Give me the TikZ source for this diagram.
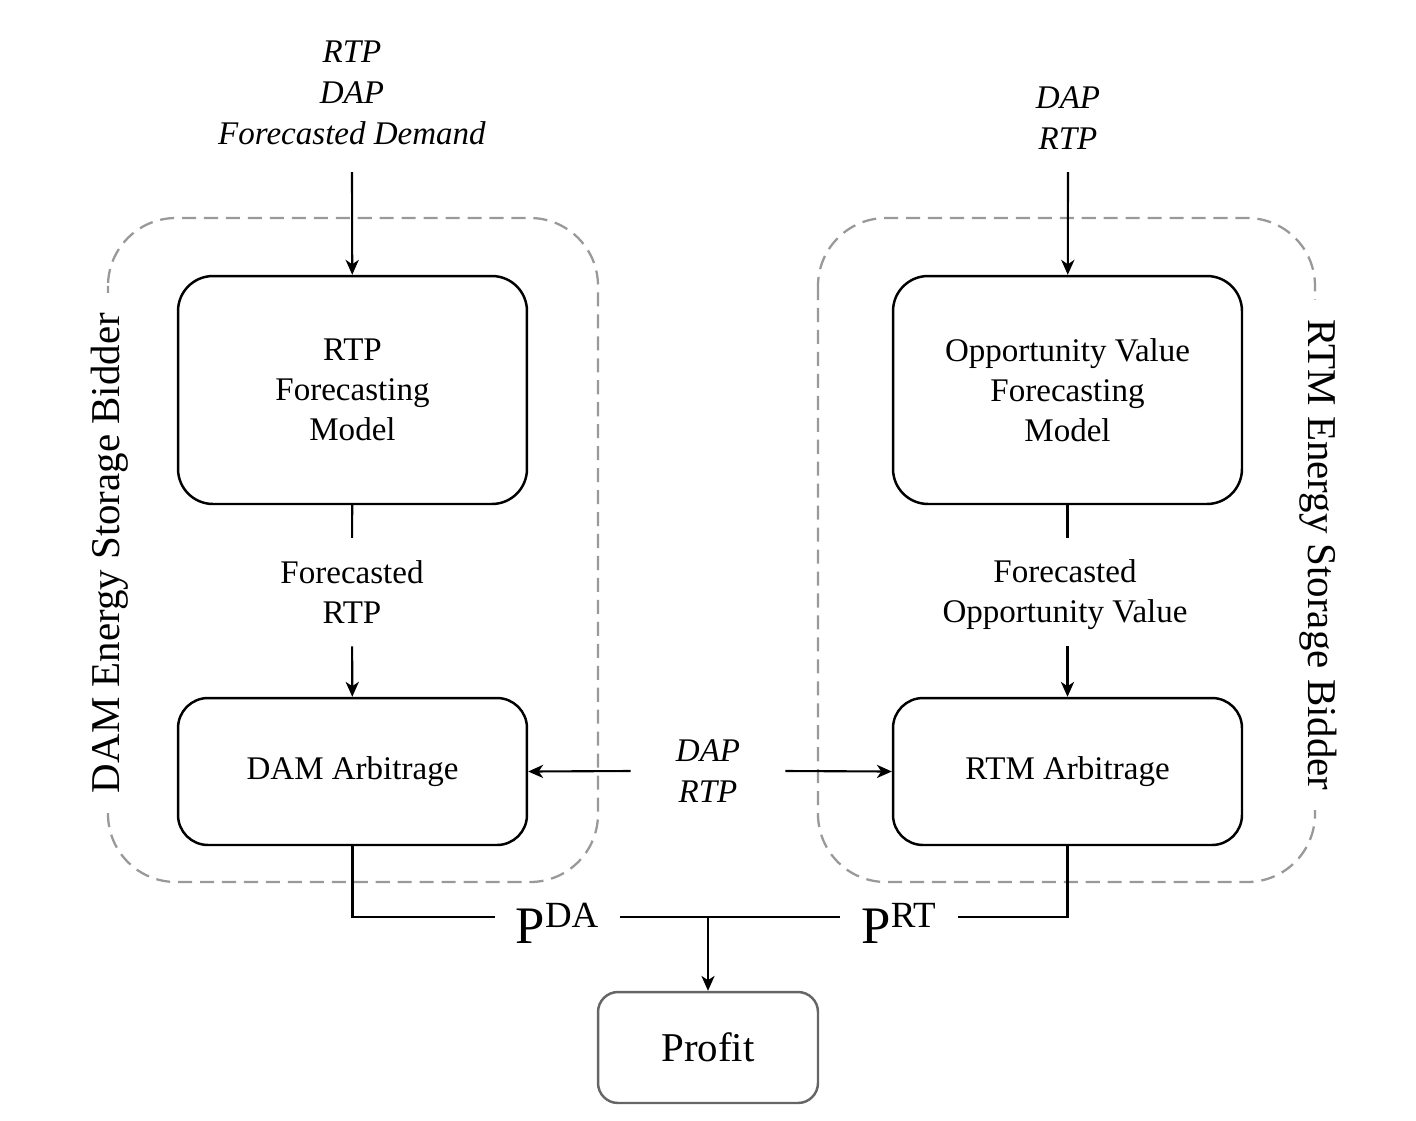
\documentclass[tikz,border=0pt]{standalone}
\usepackage{fontspec}
\setmainfont{Liberation Serif}
\usetikzlibrary{arrows.meta}

\tikzset{
  block/.style={draw, line width=1.4pt, rounded corners=0.7cm, minimum width=6.98cm,
    minimum height=4.56cm, align=center, font=\fontsize{18.8}{22.7}\selectfont},
  smallblock/.style={block, minimum height=2.94cm, rounded corners=0.6cm},
  txt/.style={align=center, font=\fontsize{18.8}{22.7}\selectfont},
  intxt/.style={align=center, font=\fontsize{18.8}{23.2}\selectfont\itshape},
  frame/.style={draw=black!40, dash pattern=on 8pt off 4.5pt, line width=1.3pt, rounded corners=1.36cm},
  side/.style={fill=white, font=\fontsize{23.3}{28}\selectfont, inner xsep=0.4cm, inner ysep=2pt},
  pmark/.style={font=\fontsize{30}{31}\selectfont, inner sep=0pt, text height=1.04cm, text depth=0pt},
  arr/.style={-{Stealth[length=8.5pt,width=7.5pt,inset=2.5pt]}, line width=1.2pt},
  link/.style={line width=1.2pt},
}

\begin{document}
\begin{tikzpicture}[x=0.02cm, y=-0.02cm]
  \useasboundingbox (0,0) rectangle (1416,1120);
  % Bidder frames
  \draw[frame] (108,218) rectangle (598,882);
  \draw[frame] (818,218) rectangle (1315,882);
  \node[side, rotate=90] (damlbl) at (110,553) {DAM Energy Storage Bidder};
  \node[side, rotate=-90] (rtmlbl) at (1318,555) {RTM Energy Storage Bidder};
  % Inputs
  \node[intxt] (inL) at (352,93) {RTP\\DAP\\Forecasted Demand};
  \node[intxt] (inR) at (1068,118) {DAP\\RTP};
  \coordinate (inLend) at (352,172);
  \coordinate (inRend) at (1068,172);
  % Blocks
  \node[block] (rtpfc) at (352.5,390) {RTP\\Forecasting\\Model};
  \node[block] (ovfc) at (1067.5,390) {Opportunity Value\\Forecasting\\Model};
  \node[smallblock] (dam) at (352.5,771.5) {DAM Arbitrage};
  \node[smallblock] (rtm) at (1067.5,771.5) {RTM Arbitrage};
  \node[draw=black!60, line width=1.4pt, rounded corners=0.4cm, minimum width=4.4cm,
    minimum height=2.22cm, font=\fontsize{23.3}{28}\selectfont] (profit) at (708,1047.5) {Profit};
  % Intermediate labels
  \node[txt, inner ysep=0.45cm] (fcL) at (352,592) {Forecasted\\RTP};
  \node[txt, inner ysep=0.45cm] (fcR) at (1065,595) {Forecasted\\Opportunity Value};
  \node[intxt, minimum width=3.08cm] (mid) at (708,771) {DAP\\RTP};
  \node[pmark, minimum width=2.5cm] (pda) at (557.5,917) {P\textsuperscript{DA}};
  \node[pmark, minimum width=2.36cm] (prt) at (899,917) {P\textsuperscript{RT}};
  \coordinate (join) at (708,917);
  % Connectors
  \draw[arr] (inLend) -- (rtpfc);
  \draw[arr] (inRend) -- (ovfc);
  \draw[link] (rtpfc) -- (fcL);
  \draw[arr] (fcL) -- (dam);
  \draw[link] (ovfc.south) -- (ovfc.south |- fcL.north);
  \draw[arr] (ovfc.south |- fcL.south) -- (rtm);
  \draw[arr] (mid.west) -- (dam.east);
  \draw[arr] (mid.east) -- (rtm.west);
  \draw[link] (dam.south) |- (pda.west);
  \draw[link] (pda.east) -- (prt.west);
  \draw[link] (prt.east) -| (rtm.south);
  \draw[arr] (join) -- (profit);
\end{tikzpicture}
\end{document}
